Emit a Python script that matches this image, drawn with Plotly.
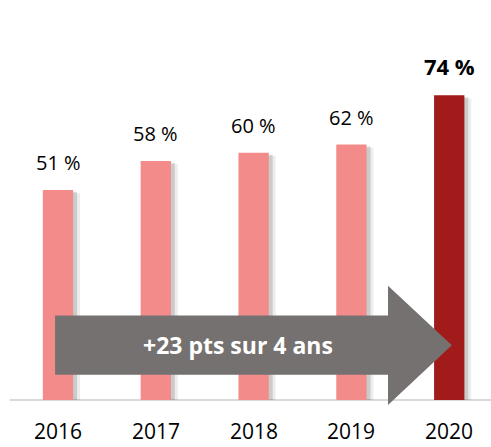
import plotly.graph_objects as go

years = ["2016", "2017", "2018", "2019", "2020"]
values = [51, 58, 60, 62, 74]
labels = ["51 %", "58 %", "60 %", "62 %", "74 %"]
arrow_text = "+23 pts sur 4 ans"

pink = "#F48B8B"
dark = "#A11B1B"
colors = [pink] * 4 + [dark]

FONT = "Open Sans, Segoe UI, DejaVu Sans, sans-serif"
xs = list(range(len(years)))
BW = 0.31

fig = go.Figure()
# soft shadows (two layers)
fig.add_trace(go.Bar(x=xs, y=[v - 0.8 for v in values], width=BW, offset=-BW / 2 + 0.07,
                     marker=dict(color="rgba(0,0,0,0.07)", line=dict(width=0)),
                     hoverinfo="skip", showlegend=False))
fig.add_trace(go.Bar(x=xs, y=[v - 0.5 for v in values], width=BW, offset=-BW / 2 + 0.04,
                     marker=dict(color="rgba(0,0,0,0.14)", line=dict(width=0)),
                     hoverinfo="skip", showlegend=False))
fig.add_trace(go.Bar(x=xs, y=values, width=BW, offset=-BW / 2,
                     marker=dict(color=colors, line=dict(width=0)),
                     hoverinfo="skip", showlegend=False))

# value labels
for i, (v, t) in enumerate(zip(values, labels)):
    last = i == len(values) - 1
    fig.add_annotation(x=i, y=v, text=f"<b>{t}</b>" if last else t, showarrow=False,
                       yanchor="bottom", yshift=12,
                       font=dict(family=FONT, size=22 if last else 20, color="#000000"))

# year labels
for i, yr in enumerate(years):
    fig.add_annotation(x=i, y=0, yref="paper", text=yr, showarrow=False,
                       yanchor="bottom", font=dict(family=FONT, size=21, color="#000000"))

# baseline
fig.add_shape(type="line", xref="paper", yref="y", x0=0.02, x1=1, y0=0, y1=0,
              line=dict(color="#D9D9D9", width=2), layer="below")

# arrow
ax0, ax1, axt = -0.03, 3.374, 4.026
by0, by1 = 6.1, 20.5
hy0, hy1 = -1.2, 27.7
ym = (by0 + by1) / 2
path = (f"M {ax0},{by0} L {ax1},{by0} L {ax1},{hy0} L {axt},{ym} "
        f"L {ax1},{hy1} L {ax1},{by1} L {ax0},{by1} Z")
fig.add_shape(type="path", path=path, xref="x", yref="y",
              fillcolor="#767171", line=dict(width=0), layer="above")
fig.add_annotation(x=1.84, y=ym, text=f"<b>{arrow_text}</b>", showarrow=False,
                   font=dict(family=FONT, size=23, color="#FFFFFF"))

fig.update_layout(
    width=491, height=447,
    margin=dict(l=0, r=0, t=0, b=0),
    paper_bgcolor="white", plot_bgcolor="white",
    barmode="overlay",
    xaxis=dict(range=[-0.593, 4.427], visible=False, fixedrange=True),
    yaxis=dict(range=[-11.41, 97.09], visible=False, fixedrange=True),
)

fig.write_html("out.html", config={"displayModeBar": False},
               post_script="document.body.style.margin='0';document.body.style.overflow='hidden';")
